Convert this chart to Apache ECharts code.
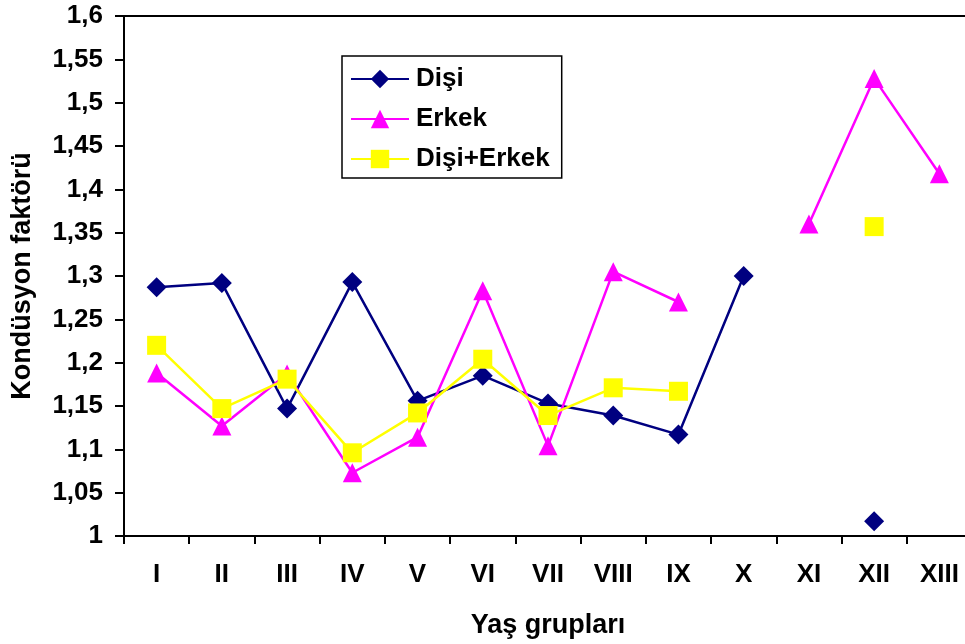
<!DOCTYPE html>
<html>
<head>
<meta charset="utf-8">
<script src="https://cdn.jsdelivr.net/npm/echarts@6/dist/echarts.min.js"></script>
<style>
  html, body { margin: 0; padding: 0; background: #ffffff; overflow: hidden; }
  #chart { width: 965px; height: 644px; }
</style>
</head>
<body>
<div id="chart"></div>
<script>
// Age groups on the x axis
const categories = ['I', 'II', 'III', 'IV', 'V', 'VI', 'VII', 'VIII', 'IX', 'X', 'XI', 'XII', 'XIII'];

// Condition factor per age group (null = no fish in that group)
const disi = [1.287, 1.292, 1.147, 1.293, 1.156, 1.185, 1.153, 1.139, 1.117, 1.300, null, 1.017, null];
const erkek = [1.188, 1.127, 1.187, 1.073, 1.114, 1.283, 1.104, 1.305, 1.270, null, 1.360, 1.528, 1.418];
const disiErkek = [1.220, 1.147, 1.181, 1.096, 1.142, 1.204, 1.139, 1.171, 1.167, null, null, 1.357, null];

// Y axis range
const yMin = 1.0;
const yMax = 1.6;
const yStep = 0.05;

const FONT = '"Liberation Sans", Arial, sans-serif';

const chart = echarts.init(document.getElementById('chart'), null, { renderer: 'canvas' });

function fmt(v) {
  return String(+(+v).toFixed(2)).replace('.', ',');
}

function lineSeries(name, data, color, symbol, size) {
  return {
    name: name,
    type: 'line',
    data: data,
    symbol: symbol,
    symbolSize: size,
    showAllSymbol: true,
    connectNulls: false,
    animation: false,
    lineStyle: { color: color, width: 2.5 },
    itemStyle: { color: color },
    emphasis: { disabled: true }
  };
}

chart.setOption({
  backgroundColor: '#ffffff',
  animation: false,
  textStyle: { fontFamily: FONT },
  // plot area runs slightly past the right edge of the canvas
  grid: { left: 124, top: 16, width: 848, bottom: 108, containLabel: false, outerBoundsMode: 'none' },
  legend: {
    orient: 'vertical',
    left: 342,
    top: 56,
    padding: [10, 12, 6, 8],
    itemGap: 14,
    itemWidth: 58,
    itemHeight: 23,
    borderColor: '#000000',
    borderWidth: 1.5,
    selectedMode: false,
    textStyle: { fontFamily: FONT, fontSize: 26, fontWeight: 'bold', color: '#000000', padding: [0, 0, 0, 2] },
    data: ['Dişi', 'Erkek', 'Dişi+Erkek']
  },
  xAxis: [{
    type: 'category',
    data: categories,
    position: 'bottom',
    boundaryGap: true,
    name: 'Yaş grupları',
    nameLocation: 'middle',
    nameGap: 76,
    nameTextStyle: { fontFamily: FONT, fontSize: 27, fontWeight: 'bold', color: '#000000' },
    axisLine: { lineStyle: { color: '#000000', width: 2 } },
    axisTick: { show: true, alignWithLabel: false, inside: false, length: 8, lineStyle: { color: '#000000', width: 2 } },
    axisLabel: { fontFamily: FONT, fontSize: 26, fontWeight: 'bold', color: '#000000', margin: 26, interval: 0 },
    splitLine: { show: false }
  }, {
    type: 'category',
    data: categories,
    position: 'top',
    axisLine: { lineStyle: { color: '#000000', width: 2 } },
    axisTick: { show: false },
    axisLabel: { show: false },
    splitLine: { show: false }
  }],
  yAxis: {
    type: 'value',
    min: yMin,
    max: yMax,
    interval: yStep,
    name: 'Kondüsyon faktörü',
    nameLocation: 'middle',
    nameRotate: 90,
    nameGap: 88,
    nameTextStyle: { fontFamily: FONT, fontSize: 27, fontWeight: 'bold', color: '#000000' },
    axisLine: { show: true, lineStyle: { color: '#000000', width: 2 } },
    axisTick: { show: true, inside: false, length: 9, lineStyle: { color: '#000000', width: 2 } },
    axisLabel: { fontFamily: FONT, fontSize: 26, fontWeight: 'bold', color: '#000000', margin: 21, formatter: fmt },
    splitLine: { show: false }
  },
  series: [
    lineSeries('Dişi', disi, '#000080', 'diamond', [20, 20]),
    lineSeries('Erkek', erkek, '#FF00FF', 'triangle', [19, 19]),
    lineSeries('Dişi+Erkek', disiErkek, '#FFFF00', 'rect', [19, 19])
  ]
});
</script>
</body>
</html>
